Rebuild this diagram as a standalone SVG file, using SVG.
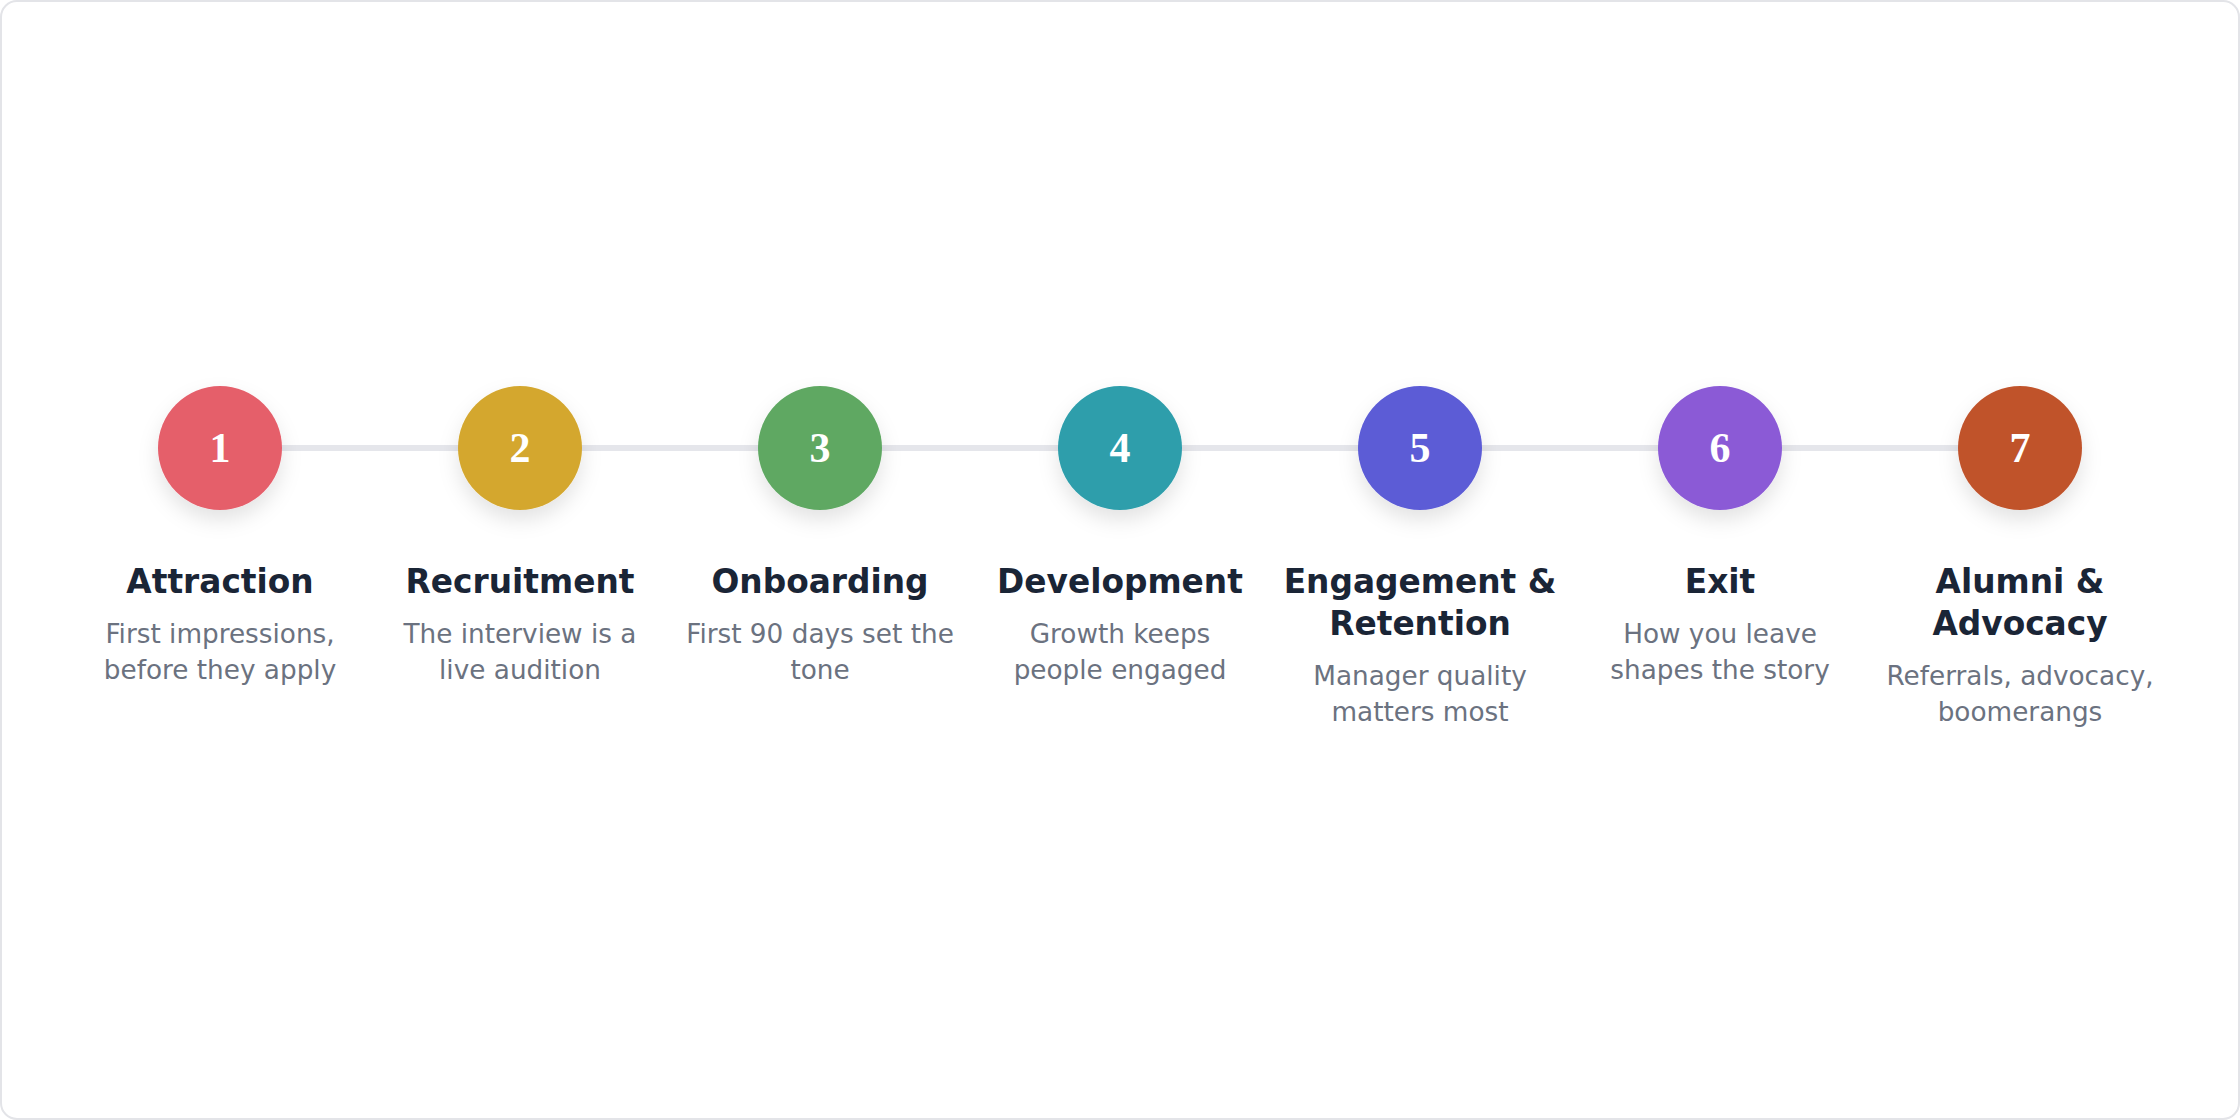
<svg xmlns="http://www.w3.org/2000/svg" width="2240" height="1120" viewBox="0 0 2240 1120">
<style>
.title{font-family:"DejaVu Sans",sans-serif;font-weight:bold;font-size:32.8px;fill:#1a2536;text-anchor:middle}
.desc{font-family:"DejaVu Sans",sans-serif;font-size:26.3px;fill:#6b7280;text-anchor:middle}
.num{font-family:"Liberation Serif",serif;font-weight:bold;font-size:42px;fill:#ffffff;text-anchor:middle}
</style>
<defs>
<filter id="sh" x="-50%" y="-50%" width="200%" height="200%">
<feDropShadow dx="0" dy="10" stdDeviation="10" flood-color="#000" flood-opacity="0.11"/>
</filter>
</defs>
<rect x="1" y="1" width="2238" height="1118" rx="16" fill="#ffffff" stroke="#e3e4e8" stroke-width="2"/>
<g id="connectors">
<line x1="220" y1="448" x2="2020" y2="448" stroke="#e5e6eb" stroke-width="6"/>
</g>
<g id="n1">
<circle cx="220" cy="448" r="62" fill="#e55e6b" filter="url(#sh)"/>
<text class="num" x="220" y="462">1</text>
<text class="title" x="220" y="593">Attraction</text>
<text class="desc" x="220" y="643">First impressions,</text>
<text class="desc" x="220" y="679">before they apply</text>
</g>
<g id="n2">
<circle cx="520" cy="448" r="62" fill="#d4a72f" filter="url(#sh)"/>
<text class="num" x="520" y="462">2</text>
<text class="title" x="520" y="593">Recruitment</text>
<text class="desc" x="520" y="643">The interview is a</text>
<text class="desc" x="520" y="679">live audition</text>
</g>
<g id="n3">
<circle cx="820" cy="448" r="62" fill="#5fa862" filter="url(#sh)"/>
<text class="num" x="820" y="462">3</text>
<text class="title" x="820" y="593">Onboarding</text>
<text class="desc" x="820" y="643">First 90 days set the</text>
<text class="desc" x="820" y="679">tone</text>
</g>
<g id="n4">
<circle cx="1120" cy="448" r="62" fill="#2d9eab" filter="url(#sh)"/>
<text class="num" x="1120" y="462">4</text>
<text class="title" x="1120" y="593">Development</text>
<text class="desc" x="1120" y="643">Growth keeps</text>
<text class="desc" x="1120" y="679">people engaged</text>
</g>
<g id="n5">
<circle cx="1420" cy="448" r="62" fill="#5b5bd6" filter="url(#sh)"/>
<text class="num" x="1420" y="462">5</text>
<text class="title" x="1420" y="593">Engagement &amp;</text>
<text class="title" x="1420" y="635">Retention</text>
<text class="desc" x="1420" y="685">Manager quality</text>
<text class="desc" x="1420" y="721">matters most</text>
</g>
<g id="n6">
<circle cx="1720" cy="448" r="62" fill="#8b5ad6" filter="url(#sh)"/>
<text class="num" x="1720" y="462">6</text>
<text class="title" x="1720" y="593">Exit</text>
<text class="desc" x="1720" y="643">How you leave</text>
<text class="desc" x="1720" y="679">shapes the story</text>
</g>
<g id="n7">
<circle cx="2020" cy="448" r="62" fill="#c0532c" filter="url(#sh)"/>
<text class="num" x="2020" y="462">7</text>
<text class="title" x="2020" y="593">Alumni &amp;</text>
<text class="title" x="2020" y="635">Advocacy</text>
<text class="desc" x="2020" y="685">Referrals, advocacy,</text>
<text class="desc" x="2020" y="721">boomerangs</text>
</g>
</svg>
